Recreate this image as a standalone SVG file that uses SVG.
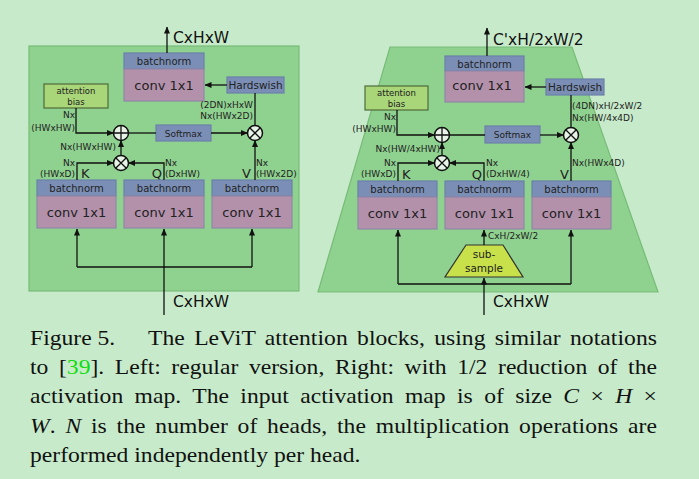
<svg xmlns="http://www.w3.org/2000/svg" width="699" height="479" viewBox="0 0 699 479">
<defs>
<marker id="ah" markerWidth="7" markerHeight="6" refX="6.5" refY="3" orient="auto" markerUnits="userSpaceOnUse">
<path d="M0,0 L7,3 L0,6 z" fill="#111"/>
</marker>
<style>
.panel{fill:#8fd18f;stroke:#78bb78;stroke-width:1.2}
.bn{fill:#7b8fb6;stroke:#6a80aa;stroke-width:1.2}
.cv{fill:#b391ab;stroke:#8f87a8;stroke-width:1.2}
.hs{fill:#7b8fb6;stroke:#6a80aa;stroke-width:1.2}
.ab{fill:#a9d678;stroke:#4f6a3a;stroke-width:1.2}
.ss{fill:#c8e04a;stroke:#333;stroke-width:1.2}
.op{fill:#e6f3e6;stroke:#111;stroke-width:1.5}
.ln{fill:none;stroke:#111;stroke-width:1.3}
.la{fill:none;stroke:#111;stroke-width:1.3;marker-end:url(#ah)}
text{font-family:"DejaVu Sans","Liberation Sans",sans-serif;fill:#222}
.t10{font-size:10px}
.t9{font-size:9px}
.t85{font-size:8.5px}
.t13{font-size:13px}
.t15{font-size:15.5px;fill:#111}
.cap{font-family:"Liberation Serif","Times New Roman",serif;font-size:21px;fill:#111}
</style>
</defs>
<rect x="0" y="0" width="699" height="479" fill="#c7ebca"/>

<!-- LEFT -->
<g id="left-panel"><rect class="panel" x="29" y="46" width="270" height="245"/></g>
<g id="left-out-proj">
<rect class="bn" x="124" y="53" width="80" height="16"/>
<rect class="cv" x="124" y="69" width="80" height="32"/>
<text class="t10" x="164" y="65" text-anchor="middle">batchnorm</text>
<text class="t13" x="164" y="90" text-anchor="middle">conv 1x1</text>
</g>
<g id="left-hardswish"><rect class="hs" x="227" y="77" width="57" height="16"/><text x="255.5" y="89" text-anchor="middle" style="font-size:10.5px">Hardswish</text></g>
<g id="left-bias"><rect class="ab" x="44" y="84" width="64" height="24"/><text class="t85" x="76" y="94" text-anchor="middle">attention</text><text class="t85" x="76" y="105" text-anchor="middle">bias</text></g>
<g id="left-plus"><circle class="op" cx="121" cy="133" r="7.5"/><path class="ln" d="M113.5,133 H128.5 M121,125.5 V140.5"/></g>
<g id="left-softmax"><rect class="bn" x="156" y="125" width="55" height="16"/><text class="t9" x="183.5" y="136.5" text-anchor="middle">Softmax</text></g>
<g id="left-mulv"><circle class="op" cx="255" cy="133" r="7.5"/><path class="ln" d="M249.7,127.7 L260.3,138.3 M260.3,127.7 L249.7,138.3"/></g>
<g id="left-mulqk"><circle class="op" cx="121" cy="163" r="7.5"/><path class="ln" d="M115.7,157.7 L126.3,168.3 M126.3,157.7 L115.7,168.3"/></g>
<g id="left-k"><rect class="bn" x="37" y="180" width="79" height="16"/><rect class="cv" x="37" y="196" width="79" height="32"/><text class="t10" x="76.5" y="192" text-anchor="middle">batchnorm</text><text class="t13" x="76.5" y="217" text-anchor="middle">conv 1x1</text></g>
<g id="left-q"><rect class="bn" x="124" y="180" width="80" height="16"/><rect class="cv" x="124" y="196" width="80" height="32"/><text class="t10" x="164" y="192" text-anchor="middle">batchnorm</text><text class="t13" x="164" y="217" text-anchor="middle">conv 1x1</text></g>
<g id="left-v"><rect class="bn" x="212" y="180" width="80" height="16"/><rect class="cv" x="212" y="196" width="80" height="32"/><text class="t10" x="252" y="192" text-anchor="middle">batchnorm</text><text class="t13" x="252" y="217" text-anchor="middle">conv 1x1</text></g>

<!-- RIGHT -->
<g id="right-panel"><polygon class="panel" points="390,47 572,47 658,292 318,292"/></g>
<g id="right-out-proj">
<rect class="bn" x="445" y="56" width="79" height="15"/>
<rect class="cv" x="445" y="71" width="79" height="31"/>
<text class="t10" x="484.5" y="67.5" text-anchor="middle">batchnorm</text>
<text class="t13" x="482" y="90" text-anchor="middle">conv 1x1</text>
</g>
<g id="right-hardswish"><rect class="hs" x="546" y="79" width="58" height="16"/><text x="575" y="91" text-anchor="middle" style="font-size:10.5px">Hardswish</text></g>
<g id="right-bias"><rect class="ab" x="365" y="86" width="63" height="24"/><text class="t85" x="396.5" y="96" text-anchor="middle">attention</text><text class="t85" x="396.5" y="107" text-anchor="middle">bias</text></g>
<g id="right-plus"><circle class="op" cx="442" cy="135" r="7.5"/><path class="ln" d="M434.5,135 H449.5 M442,127.5 V142.5"/></g>
<g id="right-softmax"><rect class="bn" x="485" y="126" width="55" height="17"/><text class="t9" x="512.5" y="138" text-anchor="middle">Softmax</text></g>
<g id="right-mulv"><circle class="op" cx="571" cy="135" r="7.5"/><path class="ln" d="M565.7,129.7 L576.3,140.3 M576.3,129.7 L565.7,140.3"/></g>
<g id="right-mulqk"><circle class="op" cx="442" cy="163" r="7.5"/><path class="ln" d="M436.7,157.7 L447.3,168.3 M447.3,157.7 L436.7,168.3"/></g>
<g id="right-k"><rect class="bn" x="358" y="181" width="79" height="16"/><rect class="cv" x="358" y="197" width="79" height="32"/><text class="t10" x="397.5" y="193" text-anchor="middle">batchnorm</text><text class="t13" x="397.5" y="218" text-anchor="middle">conv 1x1</text></g>
<g id="right-q"><rect class="bn" x="445" y="181" width="79" height="16"/><rect class="cv" x="445" y="197" width="79" height="32"/><text class="t10" x="484.5" y="193" text-anchor="middle">batchnorm</text><text class="t13" x="484.5" y="218" text-anchor="middle">conv 1x1</text></g>
<g id="right-v"><rect class="bn" x="532" y="181" width="79" height="16"/><rect class="cv" x="532" y="197" width="79" height="32"/><text class="t10" x="571.5" y="193" text-anchor="middle">batchnorm</text><text class="t13" x="571.5" y="218" text-anchor="middle">conv 1x1</text></g>
<g id="right-subsample"><polygon class="ss" points="466,245 503,245 523,277 445,277"/><text x="484" y="258" text-anchor="middle" style="font-size:10.5px">sub-</text><text x="484" y="272" text-anchor="middle" style="font-size:10.5px">sample</text></g>

<g id="connectors">
<!-- left -->
<path class="la" d="M167,53 V27"/>
<path class="la" d="M227,85 H205"/>
<path class="ln" d="M255,93 V125.5"/>
<path class="la" d="M76,108 V133 H113.5"/>
<path class="ln" d="M128.5,133 H156"/>
<path class="la" d="M211,133 H247.5"/>
<path class="la" d="M121,155.5 V140.5"/>
<path class="la" d="M77,180 V163 H113.5"/>
<path class="la" d="M164,180 V163 H128.5"/>
<path class="la" d="M255,180 V140.5"/>
<path class="la" d="M164,315 V229"/>
<path class="ln" d="M77,267 H252"/>
<path class="la" d="M77,267 V229"/>
<path class="la" d="M252,267 V229"/>
<!-- right -->
<path class="la" d="M487,56 V28"/>
<path class="la" d="M546,87 H525"/>
<path class="ln" d="M571,95 V127.5"/>
<path class="la" d="M397,110 V135 H434.5"/>
<path class="ln" d="M449.5,135 H485"/>
<path class="la" d="M540,135 H563.5"/>
<path class="la" d="M442,155.5 V142.5"/>
<path class="la" d="M398,181 V163 H434.5"/>
<path class="la" d="M484,181 V163 H449.5"/>
<path class="la" d="M571,181 V142.5"/>
<path class="la" d="M484,245 V230"/>
<path class="la" d="M484,315 V278"/>
<path class="ln" d="M398,284 H571"/>
<path class="la" d="M398,284 V230"/>
<path class="la" d="M571,284 V230"/>
</g>

<g id="labels">
<text class="t15" x="173" y="43">CxHxW</text>
<text class="t9" x="253" y="108" text-anchor="end">(2DN)xHxW</text>
<text class="t9" x="253" y="118.5" text-anchor="end">Nx(HWx2D)</text>
<text class="t9" x="75" y="118" text-anchor="end">Nx</text>
<text class="t9" x="75" y="131" text-anchor="end">(HWxHW)</text>
<text class="t9" x="116" y="150" text-anchor="end">Nx(HWxHW)</text>
<text class="t9" x="75" y="166" text-anchor="end">Nx</text>
<text class="t9" x="75" y="177" text-anchor="end">(HWxD)</text>
<text class="t13" x="81" y="178">K</text>
<text class="t13" x="162" y="178" text-anchor="end">Q</text>
<text class="t9" x="165" y="166">Nx</text>
<text class="t9" x="165" y="177">(DxHW)</text>
<text class="t13" x="242" y="178">V</text>
<text class="t9" x="256" y="166">Nx</text>
<text class="t9" x="256" y="177">(HWx2D)</text>
<text class="t15" x="173" y="307">CxHxW</text>

<text class="t15" x="493" y="45">C'xH/2xW/2</text>
<text class="t9" x="572" y="109">(4DN)xH/2xW/2</text>
<text class="t9" x="572" y="121">Nx(HW/4x4D)</text>
<text class="t9" x="396" y="120" text-anchor="end">Nx</text>
<text class="t9" x="396" y="132" text-anchor="end">(HWxHW)</text>
<text class="t9" x="440" y="152" text-anchor="end">Nx(HW/4xHW)</text>
<text class="t9" x="396" y="166" text-anchor="end">Nx</text>
<text class="t9" x="396" y="177" text-anchor="end">(HWxD)</text>
<text class="t13" x="402" y="179">K</text>
<text class="t13" x="482" y="179" text-anchor="end">Q</text>
<text class="t9" x="486" y="166">Nx</text>
<text class="t9" x="486" y="177">(DxHW/4)</text>
<text class="t13" x="560" y="179">V</text>
<text class="t9" x="572" y="166">Nx(HWx4D)</text>
<text class="t9" x="488" y="239">CxH/2xW/2</text>
<text class="t15" x="493" y="307">CxHxW</text>
</g>

<g id="caption" transform="translate(30,0) scale(1.125,1)">
<text class="cap" x="0" y="345">Figure 5.</text>
<text class="cap" x="104.9" y="345" word-spacing="2.97" textLength="452.4" lengthAdjust="spacing">The LeViT attention blocks, using similar notations</text>
<text class="cap" x="0" y="374" word-spacing="4.17" textLength="557.3" lengthAdjust="spacing">to [<tspan fill="#10dd10">39</tspan>]. Left: regular version, Right: with 1/2 reduction of the</text>
<text class="cap" x="0" y="403" word-spacing="4.85" textLength="557.3" lengthAdjust="spacing">activation map. The input activation map is of size <tspan font-style="italic">C</tspan> × <tspan font-style="italic">H</tspan> ×</text>
<text class="cap" x="0" y="433" word-spacing="3.28" textLength="557.3" lengthAdjust="spacing"><tspan font-style="italic">W</tspan>. <tspan font-style="italic">N</tspan> is the number of heads, the multiplication operations are</text>
<text class="cap" x="0" y="462">performed independently per head.</text>
</g>
</svg>
